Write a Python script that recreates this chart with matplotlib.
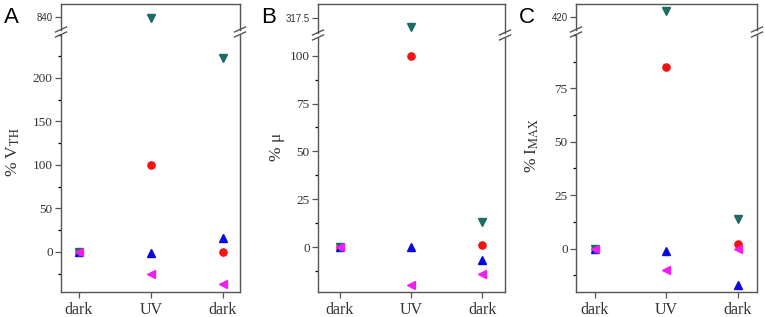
import numpy as np
import matplotlib
matplotlib.use('Agg')
import matplotlib.pyplot as plt
from matplotlib.lines import Line2D
from matplotlib.ticker import MultipleLocator

plt.rcParams['font.family'] = 'Liberation Serif'
plt.rcParams['mathtext.fontset'] = 'stix'

# conditions along x
conditions = ['dark', 'UV', 'dark']

# panel A: % V_TH
a_circle = [0, 100, 0]
a_up = [0, -1, 16]
a_down = [0, 839, 223]
a_left = [0, -25, -37]

# panel B: % mu
b_circle = [0, 100, 1]
b_up = [0, 0, -7]
b_down = [0, 313, 13]
b_left = [0, -20, -14]

# panel C: % I_MAX
c_circle = [0, 85, 2]
c_up = [0, -1, -17]
c_down = [0, 423, 14]
c_left = [0, -10, 0]

W, H = 765, 317
fig = plt.figure(figsize=(W / 100, H / 100), dpi=100)

col_circle = '#f21414'
col_up = '#0a0ae0'
col_down = '#1d6b66'
col_left = '#f01ef0'
axcol = '#555555'
txtcol = '#333333'


def rect(l, t, r, b):
    return [l / W, 1 - b / H, (r - l) / W, (b - t) / H]


def slash(xpx, ypx):
    fig.add_artist(Line2D([(xpx - 5.5) / W, (xpx + 5.5) / W],
                          [1 - (ypx + 2.5) / H, 1 - (ypx - 2.5) / H],
                          transform=fig.transFigure, color=axcol, lw=1.0))


def panel(letter, series, l, r, top, brk, bottom, top_lim, top_tick, top_lab,
          low_lim, major, minor, xlim, ylabel, ylx, yly):
    ax_t = fig.add_axes(rect(l, top, r, brk - 2.5))
    ax_b = fig.add_axes(rect(l, brk + 2.5, r, bottom))
    x = np.arange(len(conditions))
    for ax in (ax_t, ax_b):
        ax.plot(x, series[0], 'o', color=col_circle, ms=5.2, mec=col_circle)
        ax.plot(x, series[1], '^', color=col_up, ms=6, mec=col_up)
        ax.plot(x, series[2], 'v', color=col_down, ms=6, mec=col_down)
        ax.plot(x, series[3], '<', color=col_left, ms=6, mec=col_left)
        ax.set_xlim(*xlim)
        for s in ax.spines.values():
            s.set_color(axcol)
            s.set_linewidth(1.0)
        ax.tick_params(colors=axcol, labelcolor=txtcol, direction='out')
    ax_t.spines['bottom'].set_visible(False)
    ax_b.spines['top'].set_visible(False)
    ax_t.set_ylim(*top_lim)
    ax_t.set_yticks([top_tick])
    ax_t.set_yticklabels([top_lab], family='Liberation Sans', fontsize=7)
    ax_t.set_xticks([])
    ax_t.tick_params(axis='y', length=4, width=0.9, pad=2)
    ax_b.set_ylim(*low_lim)
    ax_b.yaxis.set_major_locator(MultipleLocator(major))
    ax_b.yaxis.set_minor_locator(MultipleLocator(minor))
    ax_b.set_yticks([t for t in ax_b.get_yticks() if low_lim[0] <= t <= low_lim[1] - 5])
    ax_b.set_ylim(*low_lim)
    ax_b.tick_params(axis='y', which='major', length=4, width=0.9, labelsize=9.5, pad=2)
    ax_b.tick_params(axis='y', which='minor', length=2, width=0.9)
    ax_b.set_xticks(x)
    ax_b.set_xticklabels(conditions, fontsize=11.5)
    ax_b.tick_params(axis='x', length=4, width=0.9, pad=3)
    for xp in (l, r):
        slash(xp, brk - 2.5)
        slash(xp, brk + 2.5)
    fig.text(ylx / W, 1 - yly / H, ylabel, rotation=90, ha='center', va='center',
             fontsize=12.5, color=txtcol)
    fig.text(l / W - 57 / W, 1 - 22.7 / H, letter, family='Liberation Sans',
             fontsize=16, color='black', ha='left', va='baseline')


panel('A', [a_circle, a_up, a_down, a_left], 61, 240, 4, 32, 292,
      (825.6, 855), 840, '840', (-46, 250), 50, 25, (-0.25, 2.24),
      r'% V$_{\rm TH}$', 13, 152)
panel('B', [b_circle, b_up, b_down, b_left], 318, 505, 4, 35, 292,
      (310.1, 325), 317.5, '317.5', (-23.5, 109.5), 25, 12.5, (-0.31, 2.32),
      '% μ', 277, 147)
panel('C', [c_circle, c_up, c_down, c_left], 576, 757, 4, 32, 292,
      (414.3, 426.2), 420, '420', (-20.3, 100.2), 25, 12.5, (-0.26, 2.265),
      r'% I$_{\rm MAX}$', 532, 145)

fig.savefig('out.png', dpi=100)
